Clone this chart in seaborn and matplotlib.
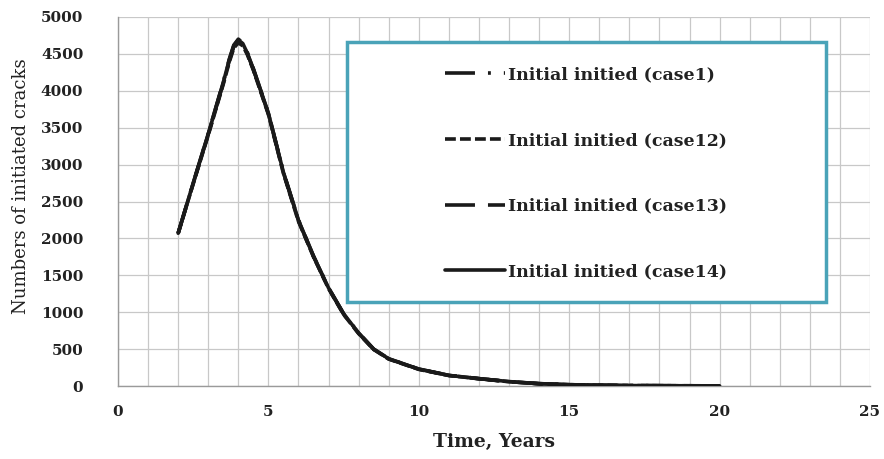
import numpy as np
import pandas as pd
import matplotlib
matplotlib.use("Agg")
import matplotlib.pyplot as plt
from matplotlib.patches import Rectangle
from matplotlib.ticker import MultipleLocator
import seaborn as sns

years = [2, 2.5, 3, 3.5, 3.7, 3.85, 4, 4.15, 4.3, 4.5, 5, 5.5, 6, 6.5, 7, 7.5, 8, 8.5, 9, 10, 11, 12, 13, 14, 15, 16, 17, 18, 19, 20]
case1 = [2070, 2750, 3420, 4120, 4430, 4620, 4700, 4650, 4520, 4300, 3700, 2900, 2250, 1760, 1330, 980, 720, 500, 370, 230, 145, 100, 60, 32, 18, 10, 6, 4, 3, 2]
case12 = [2070, 2740, 3400, 4090, 4390, 4580, 4650, 4610, 4490, 4280, 3680, 2880, 2230, 1750, 1320, 970, 710, 495, 365, 225, 142, 98, 58, 30, 17, 10, 6, 4, 3, 2]
case13 = [2070, 2745, 3410, 4105, 4410, 4600, 4680, 4630, 4505, 4290, 3690, 2890, 2240, 1755, 1325, 975, 715, 498, 368, 228, 143, 99, 59, 31, 17, 10, 6, 4, 3, 2]
case14 = [2070, 2750, 3415, 4115, 4420, 4610, 4690, 4640, 4510, 4295, 3695, 2895, 2245, 1758, 1328, 978, 718, 499, 369, 229, 144, 100, 60, 32, 18, 10, 6, 4, 3, 2]
labels = ["Initial initied (case1)", "Initial initied (case12)", "Initial initied (case13)", "Initial initied (case14)"]

sns.set_style("white")
plt.rcParams['font.family'] = ['DejaVu Serif']

fig = plt.figure(figsize=(8.84, 4.59), dpi=100)
ax = fig.add_axes([118/884, 1-386/459, 752/884, 369/459])

styles = [(0, (8.3, 3.6, 0.8, 3.6)), (0, (3, 1.15)), (0, (8.3, 3.6)), "-"]
series = [case1, case12, case13, case14]
for lab, vals, ls in zip(labels, series, styles):
    df = pd.DataFrame({"t": years, "n": vals})
    sns.lineplot(data=df, x="t", y="n", ax=ax, color="#1a1a1a", lw=2.6,
                 linestyle=ls, label=lab, zorder=3, legend=False,
                 solid_joinstyle="round", solid_capstyle="round", dash_joinstyle="round")

ax.set_xlim(0, 25)
ax.set_ylim(0, 5000)
ax.xaxis.set_major_locator(MultipleLocator(5))
ax.xaxis.set_minor_locator(MultipleLocator(1))
ax.yaxis.set_major_locator(MultipleLocator(500))
ax.grid(True, which="both", axis="x", color="#c8c8c8", lw=0.9, zorder=0)
ax.grid(True, which="major", axis="y", color="#c8c8c8", lw=0.9, zorder=0)
ax.set_axisbelow(True)
for s in ["top", "right"]:
    ax.spines[s].set_visible(False)
for s in ["left", "bottom"]:
    ax.spines[s].set_color("#9a9a9a")
    ax.spines[s].set_linewidth(1.0)
ax.tick_params(axis="both", which="both", direction="out", color="#9a9a9a", width=0.9)
ax.tick_params(axis="x", which="major", length=5, labelsize=11, pad=9)
ax.tick_params(axis="y", which="major", length=5, labelsize=11, pad=20)
ax.tick_params(axis="x", which="minor", length=5)
for t in ax.get_xticklabels() + ax.get_yticklabels():
    t.set_fontweight("bold")
    t.set_color("#222222")

ax.set_xlabel("Time, Years", fontsize=13.5, fontweight="bold", color="#222222", labelpad=10)
ax.set_ylabel("Numbers of initiated cracks", fontsize=13, color="#222222")
ax.yaxis.set_label_coords(-0.117, 0.542)

# legend box
x0, x1 = (347-118)/752, (826-118)/752
y0, y1 = (386-302)/369, (386-42)/369
rect = Rectangle((x0, y0), x1-x0, y1-y0, transform=ax.transAxes, facecolor="white",
                 edgecolor="#4aa3b8", lw=2.5, zorder=4)
ax.add_patch(rect)
handles = ax.get_lines()[:4]
leg = ax.legend(handles, labels, loc="center", bbox_to_anchor=((x0+x1)/2 - 0.001, (y0+y1)/2 - 0.004),
                frameon=False, handlelength=3.5, handletextpad=0.15,
                labelspacing=2.8, prop={"weight": "bold", "size": 12.5})
leg.set_zorder(5)
for t in leg.get_texts():
    t.set_color("#222222")

fig.savefig("out.png", dpi=100)
